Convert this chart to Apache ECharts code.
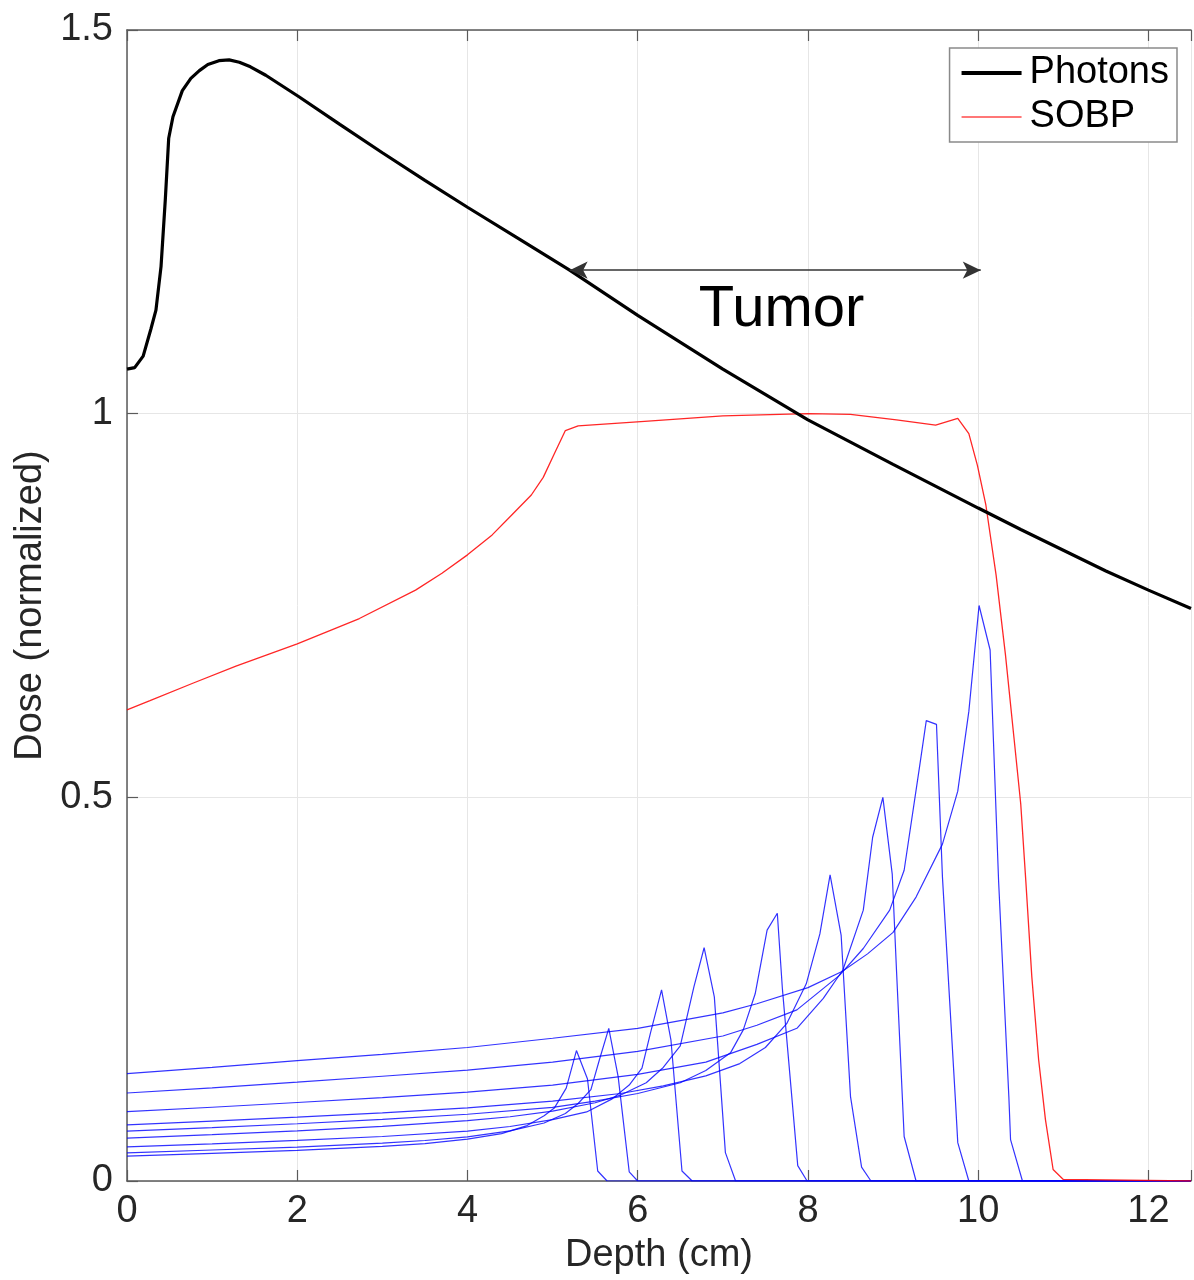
<!DOCTYPE html>
<html>
<head>
<meta charset="utf-8">
<script src="https://cdn.jsdelivr.net/npm/echarts@6/dist/echarts.min.js"></script>
<style>
html,body{margin:0;padding:0;background:#fff;}
#chart{width:1194px;height:1280px;}
</style>
</head>
<body>
<div id="chart"></div>
<script>
// ---- data (depth in cm, dose normalized) ----
const xTicks = [0, 2, 4, 6, 8, 10, 12];
const yTicks = [0, 0.5, 1, 1.5];

const photons = [[0,1.058],[0.09,1.06],[0.19,1.075],[0.28,1.11],[0.34,1.135],[0.40,1.192],[0.45,1.279],[0.49,1.359],[0.54,1.387],[0.65,1.421],[0.75,1.437],[0.85,1.447],[0.95,1.455],[1.08,1.460],[1.2,1.461],[1.32,1.458],[1.45,1.452],[1.63,1.441],[2.02,1.413],[2.5,1.377],[3,1.340],[3.5,1.304],[4,1.269],[4.6,1.228],[5.2,1.187],[6,1.128],[7,1.058],[8,0.992],[9,0.934],[10,0.877],[10.5,0.849],[11,0.822],[11.5,0.795],[12,0.770],[12.5,0.746]];

const sobp = [[0,0.614],[0.27,0.626],[0.78,0.649],[1.28,0.671],[2.0,0.700],[2.73,0.733],[3.39,0.770],[3.70,0.792],[4.0,0.816],[4.29,0.842],[4.52,0.868],[4.75,0.894],[4.89,0.917],[5.03,0.950],[5.15,0.978],[5.30,0.984],[6.08,0.990],[7.0,0.997],[8.0,1.0],[8.5,0.999],[9.04,0.992],[9.50,0.985],[9.76,0.994],[9.89,0.974],[9.99,0.933],[10.09,0.881],[10.21,0.790],[10.32,0.686],[10.42,0.578],[10.50,0.491],[10.56,0.39],[10.63,0.266],[10.71,0.158],[10.79,0.080],[10.88,0.015],[11.0,0.002],[12.5,0]];

const bragg1 = [[0,0.0325],[1,0.0361],[2,0.0398],[3,0.0452],[3.5,0.0488],[4,0.0546],[4.4,0.0618],[4.7,0.0722],[4.9,0.085],[5.02,0.095],[5.16,0.121],[5.28,0.170],[5.41,0.133],[5.53,0.013],[5.64,0],[12.5,0]];
const bragg2 = [[0,0.0367],[1,0.0404],[2,0.0442],[3,0.0494],[3.5,0.0528],[4,0.0576],[4.5,0.0653],[4.9,0.0756],[5.15,0.088],[5.3,0.101],[5.45,0.119],[5.55,0.158],[5.66,0.199],[5.77,0.136],[5.90,0.012],[6.0,0],[12.5,0]];
const bragg3 = [[0,0.0445],[1,0.0485],[2,0.053],[3,0.058],[4,0.065],[4.5,0.071],[5,0.080],[5.4,0.090],[5.7,0.107],[5.9,0.125],[6.05,0.147],[6.15,0.193],[6.28,0.249],[6.39,0.184],[6.52,0.013],[6.64,0],[12.5,0]];
const bragg4 = [[0,0.0558],[1,0.0604],[2,0.0654],[3,0.0711],[4,0.0787],[4.5,0.0837],[5,0.091],[5.5,0.102],[5.8,0.112],[6.1,0.128],[6.3,0.148],[6.5,0.176],[6.66,0.253],[6.78,0.304],[6.90,0.240],[7.03,0.037],[7.15,0],[12.5,0]];
const bragg5 = [[0,0.0649],[1,0.0696],[2,0.0746],[3,0.0802],[4,0.087],[5,0.096],[5.5,0.104],[6,0.114],[6.5,0.128],[6.8,0.144],[7.09,0.167],[7.24,0.197],[7.38,0.244],[7.52,0.327],[7.64,0.349],[7.70,0.25],[7.81,0.11],[7.88,0.02],[7.99,0],[12.5,0]];
const bragg6 = [[0,0.0731],[1,0.078],[2,0.0833],[3,0.0888],[4,0.0954],[5,0.104],[5.8,0.114],[6.3,0.124],[6.8,0.137],[7.2,0.153],[7.5,0.174],[7.75,0.205],[7.98,0.257],[8.14,0.322],[8.26,0.399],[8.39,0.320],[8.50,0.11],[8.63,0.018],[8.74,0],[12.5,0]];
const bragg7 = [[0,0.0905],[1,0.0961],[2,0.1023],[3,0.1086],[4,0.1158],[5,0.125],[6,0.139],[6.8,0.155],[7.4,0.178],[7.87,0.199],[8.18,0.238],[8.41,0.275],[8.65,0.353],[8.76,0.448],[8.88,0.500],[8.99,0.40],[9.04,0.275],[9.13,0.058],[9.27,0],[12.5,0]];
const bragg8 = [[0,0.1147],[1,0.1214],[2,0.1288],[3,0.1365],[4,0.1445],[5,0.155],[6,0.169],[7,0.189],[7.4,0.203],[7.87,0.223],[8.37,0.268],[8.65,0.303],[8.96,0.353],[9.13,0.405],[9.31,0.539],[9.39,0.600],[9.51,0.595],[9.58,0.396],[9.73,0.11],[9.76,0.05],[9.89,0],[12.5,0]];
const bragg9 = [[0,0.140],[1,0.148],[2,0.157],[3,0.165],[4,0.174],[5,0.186],[6,0.199],[7,0.219],[7.4,0.231],[8,0.252],[8.4,0.273],[8.7,0.296],[9,0.324],[9.27,0.370],[9.58,0.439],[9.76,0.508],[9.89,0.612],[10.01,0.750],[10.14,0.692],[10.24,0.39],[10.36,0.11],[10.38,0.054],[10.52,0],[12.5,0]];
const braggCurves = [bragg1, bragg2, bragg3, bragg4, bragg5, bragg6, bragg7, bragg8, bragg9];

const tumorArrow = { from: 5.2, to: 10.03, dose: 1.187 };
const tumorLabel = { text: 'Tumor', depth: 7.69, dose: 1.135 };

// ---- chart ----
const FONT = '"Liberation Sans", Arial, Helvetica, sans-serif';
const TXT = '#262626';
const AXIS = '#5a5a5a';

const chart = echarts.init(document.getElementById('chart'), null, { renderer: 'canvas' });

const braggSeries = braggCurves.map((d, i) => ({
  name: 'bragg' + (i + 1),
  type: 'line',
  data: d,
  showSymbol: false,
  symbol: 'none',
  smooth: false,
  silent: true,
  lineStyle: { color: '#0000ff', width: 1.2, opacity: 0.8 },
  z: 2
}));

const option = {
  animation: false,
  backgroundColor: '#ffffff',
  grid: { left: 127, right: 0, top: 30, bottom: 95, containLabel: false },
  legend: {
    data: [
      { name: 'Photons', icon: 'path://M0,0H60V4H0Z' },
      { name: 'SOBP', icon: 'path://M0,0H60V1.4H0Z' }
    ],
    orient: 'vertical',
    right: 17,
    top: 48,
    itemWidth: 60,
    itemHeight: 14,
    itemGap: 6,
    padding: [6, 8, 6, 12],
    backgroundColor: '#ffffff',
    borderColor: '#8a8a8a',
    borderWidth: 1.5,
    borderRadius: 0,
    textStyle: { fontSize: 38, fontFamily: FONT, color: '#000', padding: [0, 0, 0, 3] },
    z: 20
  },
  xAxis: [
    {
      type: 'value', min: 0, max: 12.5, interval: 2, position: 'bottom',
      name: 'Depth (cm)', nameLocation: 'middle', nameGap: 56,
      nameTextStyle: { fontSize: 38, fontFamily: FONT, color: TXT },
      axisLine: { show: true, lineStyle: { color: AXIS, width: 1.5 } },
      axisTick: { show: true, inside: true, length: 11, lineStyle: { color: AXIS, width: 1.2 } },
      axisLabel: {
        fontSize: 38, fontFamily: FONT, color: TXT, margin: 12, showMaxLabel: true,
        formatter: v => (xTicks.indexOf(v) >= 0 ? String(v) : '')
      },
      splitLine: { show: true, lineStyle: { color: '#e6e6e6', width: 1 } }
    },
    {
      type: 'value', min: 0, max: 12.5, interval: 2, position: 'top',
      axisLine: { show: true, onZero: false, lineStyle: { color: AXIS, width: 1.5 } },
      axisTick: { show: true, inside: true, length: 11, lineStyle: { color: AXIS, width: 1.2 } },
      axisLabel: { show: false },
      splitLine: { show: false }
    }
  ],
  yAxis: {
    type: 'value', min: 0, max: 1.5, interval: 0.5,
    name: 'Dose (normalized)', nameLocation: 'middle', nameGap: 71, nameRotate: 90,
    nameTextStyle: { fontSize: 38, fontFamily: FONT, color: TXT },
    axisLine: { show: true, lineStyle: { color: AXIS, width: 1.5 } },
    axisTick: { show: true, inside: true, length: 11, lineStyle: { color: AXIS, width: 1.2 } },
    axisLabel: {
      fontSize: 38, fontFamily: FONT, color: TXT, margin: 14,
      formatter: v => (yTicks.indexOf(v) >= 0 ? String(v) : '')
    },
    splitLine: { show: true, lineStyle: { color: '#e6e6e6', width: 1 } }
  },
  series: [
    ...braggSeries,
    {
      name: 'SOBP', type: 'line', data: sobp, showSymbol: false, symbol: 'none', smooth: false,
      lineStyle: { color: '#ff0000', width: 1.3, opacity: 0.85 },
      itemStyle: { color: '#ff4a4a' },
      z: 3
    },
    {
      name: 'Photons', type: 'line', data: photons, showSymbol: false, symbol: 'none', smooth: false,
      lineStyle: { color: '#000000', width: 3.2 },
      itemStyle: { color: '#000000' },
      z: 4,
      markLine: {
        silent: true,
        symbol: ['arrow', 'arrow'],
        symbolSize: [13, 18],
        label: { show: false },
        lineStyle: { color: '#333333', width: 1.5, type: 'solid' },
        emphasis: { disabled: true },
        data: [[
          { coord: [tumorArrow.from, tumorArrow.dose] },
          { coord: [tumorArrow.to, tumorArrow.dose] }
        ]]
      },
      markPoint: {
        silent: true,
        symbol: 'circle',
        symbolSize: 0,
        label: {
          show: true, position: 'inside', formatter: tumorLabel.text,
          fontSize: 58, fontFamily: FONT, color: '#000'
        },
        data: [{ coord: [tumorLabel.depth, tumorLabel.dose] }]
      }
    }
  ]
};

chart.setOption(option);
</script>
</body>
</html>
